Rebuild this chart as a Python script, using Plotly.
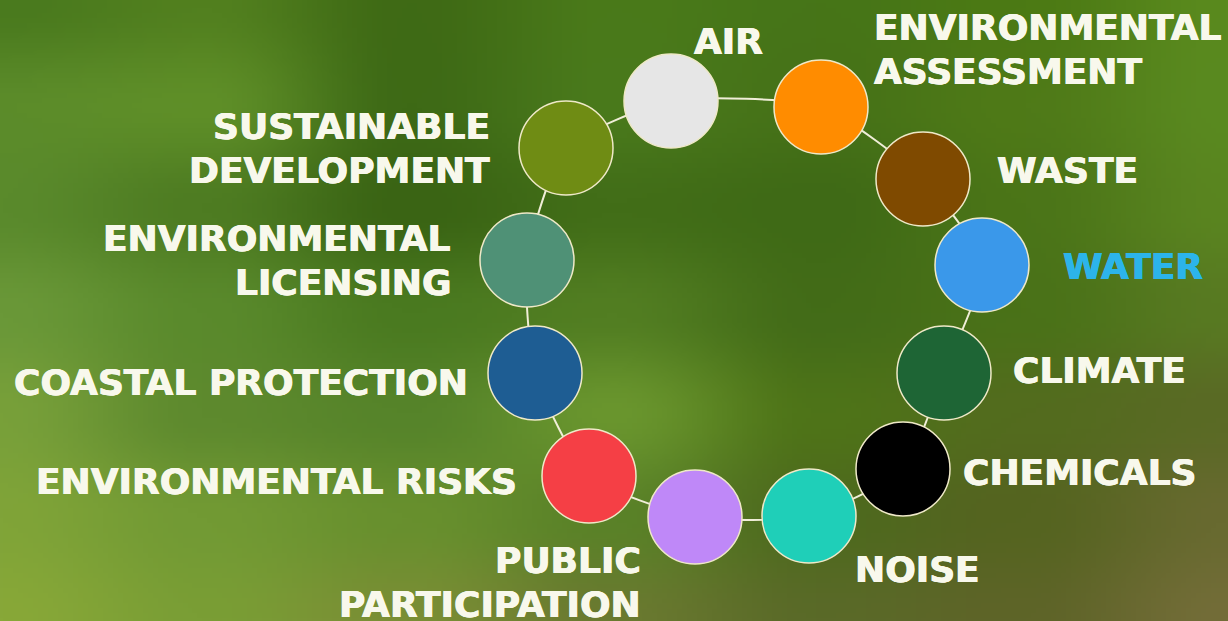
import base64, struct, zlib
import numpy as np
import plotly.graph_objects as go

W, H = 1228, 621

# ---- data ----
topics = ["AIR", "ENVIRONMENTAL<br>ASSESSMENT", "WASTE", "WATER", "CLIMATE", "CHEMICALS",
          "NOISE", "PUBLIC<br>PARTICIPATION", "ENVIRONMENTAL RISKS", "COASTAL PROTECTION",
          "ENVIRONMENTAL<br>LICENSING", "SUSTAINABLE<br>DEVELOPMENT"]
node_x = [671, 821, 923, 982, 944, 903, 809, 695, 589, 535, 527, 566]
node_y = [101, 107, 179, 265, 373, 469, 516, 517, 476, 373, 260, 148]
node_colors = ["#e6e6e6", "#ff8c00", "#7f4a00", "#3a98ea", "#1e6535", "#000000",
               "#1fcfb8", "#bf88f8", "#f53f45", "#1e5d93", "#4f9176", "#6f8c14"]
label_x = [728, 872, 995, 1061, 1011, 961, 853, 643, 519, 470, 453, 492]
label_y = [41, 49, 170, 266, 370, 472, 569, 582, 481, 382, 260, 148]
label_anchor = ["center", "left", "left", "left", "left", "left",
                "left", "right", "right", "right", "right", "right"]
label_colors = ["#f8f8ec"] * 3 + ["#2cb4ea"] + ["#f8f8ec"] * 8

# background colour grid (blurred photo), rows top->bottom, cols left->right
bg_grid = [
    ["#4a7a1e", "#52801f", "#3f6a15", "#4a7a1a", "#467518", "#4c7a14", "#5a8a1e"],
    ["#5c8c2a", "#5f8f28", "#3e6a16", "#4a7a1c", "#467218", "#4f7a18", "#5a8a20"],
    ["#5a8a2c", "#4e7c22", "#3a6414", "#426e18", "#3f6a16", "#4b7518", "#5a8520"],
    ["#6a9838", "#5a8a2c", "#4a7a20", "#527e22", "#436c18", "#4a7218", "#587a22"],
    ["#78a03a", "#5e8a2e", "#56842a", "#6a962e", "#4e7418", "#536c1e", "#5a6a25"],
    ["#80a438", "#729a34", "#68902e", "#5a8228", "#4e6a1e", "#556420", "#686a30"],
    ["#88a838", "#7a9e35", "#7a8e35", "#6a7a30", "#5a6a28", "#5e6428", "#736d38"],
]

# ---- background image (decoration) ----
def hex2rgb(h):
    h = h.lstrip("#")
    return [int(h[i:i + 2], 16) for i in (0, 2, 4)]

g = np.array([[hex2rgb(c) for c in row] for row in bg_grid], dtype=float)
ow, oh = 246, 124
gy = np.linspace(0, g.shape[0] - 1, oh)
gx = np.linspace(0, g.shape[1] - 1, ow)
y0 = np.floor(gy).astype(int); y1 = np.minimum(y0 + 1, g.shape[0] - 1); fy = (gy - y0)[:, None, None]
x0 = np.floor(gx).astype(int); x1 = np.minimum(x0 + 1, g.shape[1] - 1); fx = (gx - x0)[None, :, None]
fy = fy * fy * (3 - 2 * fy); fx = fx * fx * (3 - 2 * fx)
top = g[y0][:, x0] * (1 - fx) + g[y0][:, x1] * fx
bot = g[y1][:, x0] * (1 - fx) + g[y1][:, x1] * fx
img = np.clip(top * (1 - fy) + bot * fy, 0, 255).astype(np.uint8)

def png_bytes(a):
    h, w, _ = a.shape
    raw = b"".join(b"\x00" + a[i].tobytes() for i in range(h))
    def chunk(t, d):
        c = struct.pack(">I", len(d)) + t + d
        return c + struct.pack(">I", zlib.crc32(t + d) & 0xffffffff)
    return (b"\x89PNG\r\n\x1a\n" + chunk(b"IHDR", struct.pack(">IIBBBBB", w, h, 8, 2, 0, 0, 0))
            + chunk(b"IDAT", zlib.compress(raw, 9)) + chunk(b"IEND", b""))

bg_uri = "data:image/png;base64," + base64.b64encode(png_bytes(img)).decode()

# ---- figure ----
fig = go.Figure()
fig.add_trace(go.Scatter(
    x=node_x + [node_x[0]], y=node_y + [node_y[0]], mode="lines",
    line=dict(color="#f0eed8", width=2, shape="spline", smoothing=0.6),
    hoverinfo="skip", showlegend=False))
fig.add_trace(go.Scatter(
    x=node_x, y=node_y, mode="markers",
    marker=dict(size=94, color=node_colors, line=dict(color="#efe9c8", width=1.5)),
    text=[t.replace("<br>", " ") for t in topics], hoverinfo="text", showlegend=False))

LINE_GAP = 44
for t, x, y, a, c in zip(topics, label_x, label_y, label_anchor, label_colors):
    lines = t.split("<br>")
    n = len(lines)
    for i, ln in enumerate(lines):
        yy = y + (i - (n - 1) / 2) * LINE_GAP
        fig.add_annotation(x=x, y=yy, xref="x", yref="y", text="<b>" + ln + "</b>",
                           showarrow=False, xanchor=a, yanchor="middle",
                           font=dict(family="DejaVu Sans", size=36, color=c,
                                     shadow="0.5px 0 0 %s, -0.5px 0 0 %s" % (c, c)))

fig.add_layout_image(dict(source=bg_uri, xref="paper", yref="paper", x=0, y=1,
                          sizex=1, sizey=1, sizing="stretch", layer="below", xanchor="left", yanchor="top"))

fig.update_layout(
    width=W, height=H, margin=dict(l=0, r=0, t=0, b=0),
    paper_bgcolor="#4f7c20", plot_bgcolor="rgba(0,0,0,0)",
    xaxis=dict(range=[0, W], visible=False, fixedrange=True),
    yaxis=dict(range=[H, 0], visible=False, fixedrange=True),
)
fig.write_html("out.html", config={"displayModeBar": False},
               post_script="document.body.style.margin='0';document.body.style.overflow='hidden';")
